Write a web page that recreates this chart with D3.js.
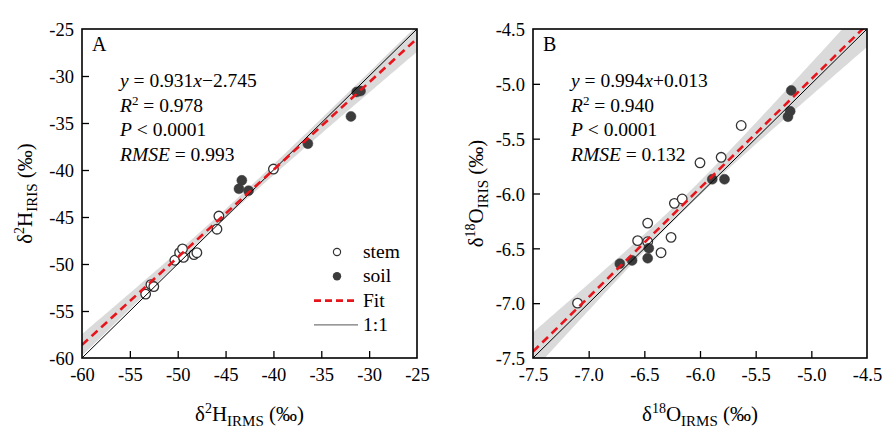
<!DOCTYPE html>
<html><head><meta charset="utf-8">
<script src="https://cdn.jsdelivr.net/npm/d3@7"></script>
<style>
body{margin:0;background:#fff;}
text{font-family:"Liberation Serif","Times New Roman",serif;fill:#000;}
</style></head>
<body><svg id="c" width="885" height="438"></svg>
<script>
// ---- Data ----
const stemH_irms = [-53.35,-52.8,-52.5,-50.3,-49.8,-49.5,-49.4,-48.3,-48.0,-45.9,-45.7,-40.0];
const stemH_iris = [-53.2,-52.2,-52.4,-49.6,-48.8,-48.4,-49.3,-49.0,-48.8,-46.3,-44.9,-39.9];
const soilH_irms = [-43.3,-43.6,-42.6,-36.4,-31.9,-31.3,-30.9];
const soilH_iris = [-41.1,-42.0,-42.2,-37.2,-34.3,-31.7,-31.6];

const stemO_irms = [-7.10,-6.56,-6.47,-6.47,-6.35,-6.26,-6.23,-6.16,-6.00,-5.81,-5.63];
const stemO_iris = [-7.00,-6.43,-6.27,-6.44,-6.54,-6.40,-6.09,-6.05,-5.72,-5.67,-5.38];
const soilO_irms = [-6.72,-6.61,-6.47,-6.46,-5.89,-5.78,-5.21,-5.19,-5.18];
const soilO_iris = [-6.64,-6.61,-6.59,-6.50,-5.87,-5.87,-5.30,-5.25,-5.06];

const ticksH = [-60,-55,-50,-45,-40,-35,-30,-25];
const ticksO = [-7.5,-7.0,-6.5,-6.0,-5.5,-5.0,-4.5];

const fitH = {slope:0.931, intercept:-2.745, r2:"0.978", p:"0.0001", rmse:0.993, rmseTxt:"0.993", eq:["0.931","−2.745"]};
const fitO = {slope:0.994, intercept:0.013, r2:"0.940", p:"0.0001", rmse:0.132, rmseTxt:"0.132", eq:["0.994","+0.013"]};

const legendItems = ["stem","soil","Fit","1:1"];

const svg = d3.select("#c");

function panel(opts){
  const {x0,x1,y0,y1,domain,ticks,fmt,stemX,stemY,soilX,soilY,fit,label,iso,sup,legend} = opts;
  const g = svg.append("g");
  const x = d3.scaleLinear().domain(domain).range([x0,x1]);
  const y = d3.scaleLinear().domain(domain).range([y1,y0]);
  const clipId = "clip"+label;
  svg.append("clipPath").attr("id",clipId).append("rect")
    .attr("x",x0).attr("y",y0).attr("width",x1-x0).attr("height",y1-y0);
  const inner = g.append("g").attr("clip-path",`url(#${clipId})`);

  // confidence band
  const allX = stemX.concat(soilX);
  const n = allX.length;
  const mx = d3.mean(allX);
  const sxx = d3.sum(allX, v=>(v-mx)*(v-mx));
  const tval = 2.11;
  const xs = d3.range(0,101).map(i=>domain[0]+(domain[1]-domain[0])*i/100);
  const band = xs.map(v=>{
    const yh = fit.slope*v+fit.intercept;
    const se = fit.rmse*Math.sqrt(1/n + (v-mx)*(v-mx)/sxx)*tval;
    return {x:v, lo:yh-se, hi:yh+se};
  });
  inner.append("path").datum(band)
    .attr("d", d3.area().x(d=>x(d.x)).y0(d=>y(d.lo)).y1(d=>y(d.hi)))
    .attr("fill","#d6d6d6").attr("opacity",0.9);

  // points
  inner.selectAll(".stem").data(stemX.map((v,i)=>[v,stemY[i]])).enter().append("circle")
    .attr("cx",d=>x(d[0])).attr("cy",d=>y(d[1])).attr("r",4.8)
    .attr("fill","#fff").attr("stroke","#333").attr("stroke-width",1.3);
  inner.selectAll(".soil").data(soilX.map((v,i)=>[v,soilY[i]])).enter().append("circle")
    .attr("cx",d=>x(d[0])).attr("cy",d=>y(d[1])).attr("r",5)
    .attr("fill","#3c3c3c").attr("stroke","#3c3c3c").attr("stroke-width",0.5);

  // 1:1 line
  inner.append("line")
    .attr("x1",x(domain[0])).attr("y1",y(domain[0]))
    .attr("x2",x(domain[1])).attr("y2",y(domain[1]))
    .attr("stroke","#000").attr("stroke-width",1);
  // fit line
  inner.append("line")
    .attr("x1",x(domain[0])).attr("y1",y(fit.slope*domain[0]+fit.intercept))
    .attr("x2",x(domain[1])).attr("y2",y(fit.slope*domain[1]+fit.intercept))
    .attr("stroke","#e8141b").attr("stroke-width",2.6).attr("stroke-dasharray","8,5");

  // axes
  const xa = g.append("g").attr("transform",`translate(0,${y1})`)
    .call(d3.axisBottom(x).tickValues(ticks).tickFormat(fmt).tickSizeInner(-7).tickSizeOuter(0).tickPadding(10));
  const ya = g.append("g").attr("transform",`translate(${x0},0)`)
    .call(d3.axisLeft(y).tickValues(ticks).tickFormat(fmt).tickSizeInner(-7).tickSizeOuter(0).tickPadding(8));
  [xa,ya].forEach(a=>{
    a.attr("font-family","Liberation Serif, serif");
    a.select(".domain").remove();
    a.selectAll("line").attr("stroke","#000").attr("stroke-width",1.3);
    a.selectAll("text").attr("font-size",18.5).attr("font-family","Liberation Serif, serif").attr("fill","#000");
  });
  ya.selectAll(".tick text").attr("dy","0.36em");
  ya.selectAll(".tick line").filter(d=>d===domain[0]||d===domain[1]).remove();
  xa.selectAll(".tick line").filter(d=>d===domain[0]||d===domain[1]).remove();

  // frame
  g.append("rect").attr("x",x0).attr("y",y0).attr("width",x1-x0).attr("height",y1-y0)
    .attr("fill","none").attr("stroke","#000").attr("stroke-width",1.6);

  // panel label
  g.append("text").attr("x",x0+10).attr("y",y0+22).attr("font-size",20).text(label);

  // annotation
  const ax = x0+38, ay = y0+58, dy = 24.5;
  const t1 = g.append("text").attr("x",ax).attr("y",ay).attr("font-size",19.5);
  t1.append("tspan").attr("font-style","italic").text("y");
  t1.append("tspan").text(" = "+fit.eq[0]);
  t1.append("tspan").attr("font-style","italic").text("x");
  t1.append("tspan").text(fit.eq[1]);
  const t2 = g.append("text").attr("x",ax).attr("y",ay+dy).attr("font-size",19.5);
  t2.append("tspan").attr("font-style","italic").text("R");
  t2.append("tspan").attr("font-size",13).attr("dy",-7).text("2");
  t2.append("tspan").attr("dy",7).text(" = "+fit.r2);
  const t3 = g.append("text").attr("x",ax).attr("y",ay+2*dy).attr("font-size",19.5);
  t3.append("tspan").attr("font-style","italic").text("P");
  t3.append("tspan").text(" < "+fit.p);
  const t4 = g.append("text").attr("x",ax).attr("y",ay+3*dy).attr("font-size",19.5);
  t4.append("tspan").attr("font-style","italic").text("RMSE");
  t4.append("tspan").text(" = "+fit.rmseTxt);

  // axis titles
  const cx = (x0+x1)/2;
  const xt = g.append("text").attr("x",cx).attr("y",y1+63).attr("text-anchor","middle").attr("font-size",21);
  xt.append("tspan").text("δ");
  xt.append("tspan").attr("font-size",14).attr("dy",-8).text(sup);
  xt.append("tspan").attr("dy",8).text(iso);
  xt.append("tspan").attr("font-size",15).attr("dy",5).text("IRMS");
  xt.append("tspan").attr("dy",-5).text(" (‰)");

  const cy = (y0+y1)/2;
  const ytx = x0-50;
  const yt = g.append("text").attr("transform",`translate(${ytx},${cy}) rotate(-90)`)
    .attr("text-anchor","middle").attr("font-size",21);
  yt.append("tspan").text("δ");
  yt.append("tspan").attr("font-size",14).attr("dy",-8).text(sup);
  yt.append("tspan").attr("dy",8).text(iso);
  yt.append("tspan").attr("font-size",15).attr("dy",5).text("IRIS");
  yt.append("tspan").attr("dy",-5).text(" (‰)");

  if(legend){
    const lx = 337, ly = 252, lh = 24.3;
    const lg = g.append("g");
    lg.append("circle").attr("cx",lx).attr("cy",ly).attr("r",3.6)
      .attr("fill","#fff").attr("stroke","#333").attr("stroke-width",1.2);
    lg.append("circle").attr("cx",lx).attr("cy",ly+lh).attr("r",4.2).attr("fill","#3c3c3c");
    lg.append("line").attr("x1",314).attr("x2",358).attr("y1",ly+2*lh).attr("y2",ly+2*lh)
      .attr("stroke","#e8141b").attr("stroke-width",2.6).attr("stroke-dasharray","7,4");
    lg.append("line").attr("x1",314).attr("x2",358).attr("y1",ly+3*lh).attr("y2",ly+3*lh)
      .attr("stroke","#777").attr("stroke-width",1.3);
    legendItems.forEach((s,i)=>{
      lg.append("text").attr("x",363).attr("y",ly+i*lh+6).attr("font-size",19.5).text(s);
    });
  }
}

const hy = f => (d => f(d).replace("−","-"));
panel({x0:82,x1:417,y0:29,y1:358,domain:[-60,-25],ticks:ticksH,fmt:hy(d3.format("d")),
  stemX:stemH_irms,stemY:stemH_iris,soilX:soilH_irms,soilY:soilH_iris,fit:fitH,label:"A",iso:"H",sup:"2",legend:true});
panel({x0:533,x1:867,y0:29,y1:358,domain:[-7.5,-4.5],ticks:ticksO,fmt:hy(d3.format(".1f")),
  stemX:stemO_irms,stemY:stemO_iris,soilX:soilO_irms,soilY:soilO_iris,fit:fitO,label:"B",iso:"O",sup:"18",legend:false});
</script></body></html>
